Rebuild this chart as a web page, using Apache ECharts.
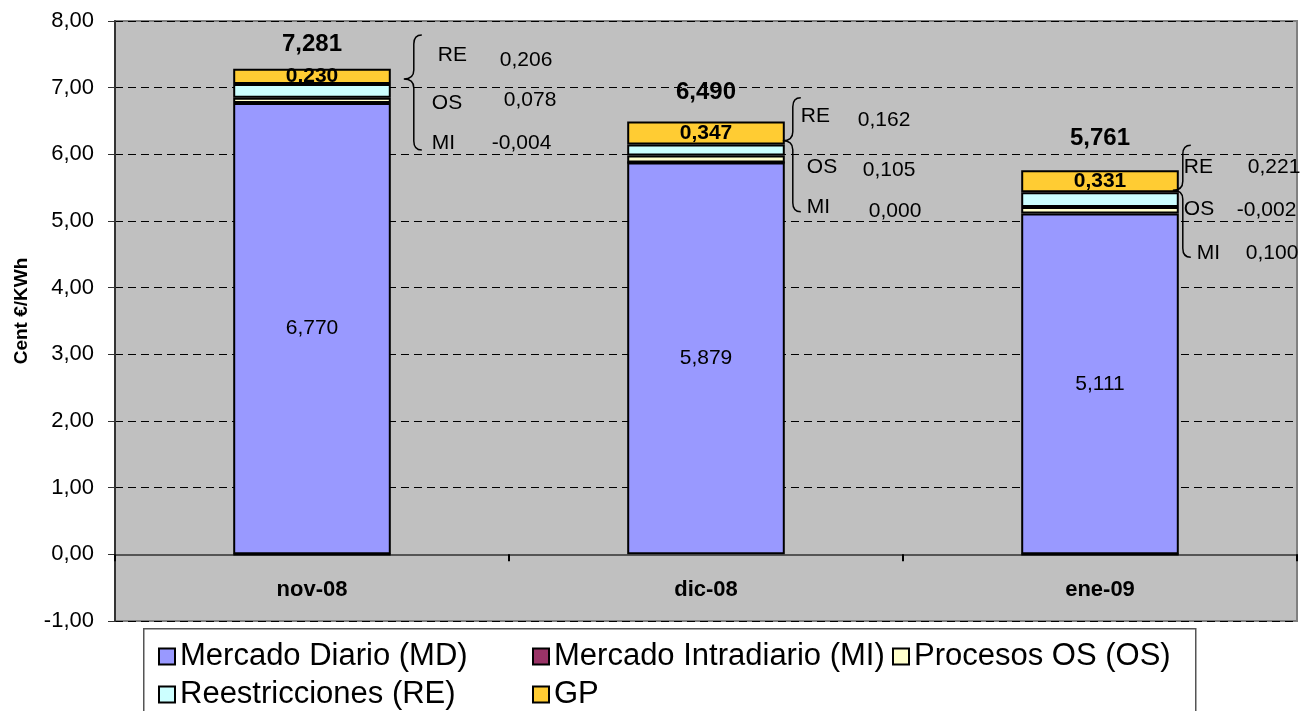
<!DOCTYPE html>
<html>
<head>
<meta charset="utf-8">
<script src="https://cdn.jsdelivr.net/npm/echarts@6/dist/echarts.min.js"></script>
<style>
html,body{margin:0;padding:0;background:#fff;}
#chart{width:1300px;height:711px;}
</style>
</head>
<body>
<div id="chart"></div>
<script>
// ---- data ----
const categories = ['nov-08', 'dic-08', 'ene-09'];
const mdValues = [6.770, 5.879, 5.111];
const miValues = [-0.004, 0.000, -0.002];
const osValues = [0.078, 0.105, 0.100];
const reValues = [0.206, 0.162, 0.221];
const gpValues = [0.230, 0.347, 0.331];
const totalValues = [7.281, 6.490, 5.761];
// annotation values as printed next to each bar
const noteRE = [0.206, 0.162, 0.221];
const noteOS = [0.078, 0.105, -0.002];
const noteMI = [-0.004, 0.000, 0.100];
const seriesNames = ['Mercado Diario (MD)', 'Mercado Intradiario (MI)', 'Procesos OS (OS)', 'Reestricciones (RE)', 'GP'];
const yMin = -1, yMax = 8, yStep = 1;

// ---- layout (pixel offsets relative to the bar's right edge / top) ----
const noteLayout = [
  {brace: [23, -34, 10, 81], re: [47, -14, 109, -9], os: [41, 34, 113, 31], mi: [41, 74, 101, 74], total: -25},
  {brace: [8, -24, 19, 90],  re: [16, -5, 73, -1],   os: [22, 46, 78, 49],  mi: [22, 86, 84, 90],  total: -29},
  {brace: [4, -25, 20, 87],  re: [5, -3, 69, -3],    os: [5, 39, 58, 40],   mi: [18, 83, 67, 83],  total: -32}
];

const FONT = "'Liberation Sans', Arial, sans-serif";
const fmt = (v, d) => v.toFixed(d).replace('.', ',');
const colors = ['#9999FF', '#993366', '#FFFFCC', '#CCFFFF', '#FFCC33'];

function bar(name, data, color, label) {
  return {
    name, type: 'bar', stack: 'total', data, barWidth: '40%',
    itemStyle: {color, borderColor: '#000', borderWidth: 2},
    label: label || {show: false},
    emphasis: {disabled: true},
    z: 3
  };
}

function bracePath(x, top, tip, bottom) {
  const w = 8, tw = 10, r = 9;
  return `M${x + w} ${top} Q${x} ${top} ${x} ${top + r} L${x} ${tip - r} Q${x} ${tip} ${x - tw} ${tip} ` +
         `Q${x} ${tip} ${x} ${tip + r} L${x} ${bottom - r} Q${x} ${bottom} ${x + w} ${bottom}`;
}

function txt(text, x, y, font, align) {
  return {type: 'text', x, y, style: {text, font, fill: '#000', textAlign: align || 'left', textVerticalAlign: 'middle', align: align || 'left', verticalAlign: 'middle'}};
}

function legendCol(names, left) {
  return {
    data: names, orient: 'vertical', left, top: 641, padding: 0,
    itemGap: 7, itemWidth: 16, itemHeight: 16, icon: 'rect', z: 10,
    textStyle: {fontFamily: FONT, fontSize: 31, color: '#000'}
  };
}

const chart = echarts.init(document.getElementById('chart'));
chart.setOption({
  backgroundColor: '#fff',
  animation: false,
  textStyle: {fontFamily: FONT},
  grid: {left: 115, right: 3, top: 21, bottom: 90, show: true, backgroundColor: '#C0C0C0', borderColor: '#808080', borderWidth: 2},
  graphic: [{
    type: 'rect', left: 143, top: 628, z: 1,
    shape: {width: 1052, height: 100},
    style: {fill: '#fff', stroke: '#555', lineWidth: 1.5}
  }],
  legend: [
    legendCol([seriesNames[0], seriesNames[3]], 158),
    legendCol([seriesNames[1], seriesNames[4]], 532),
    legendCol([seriesNames[2]], 892)
  ],
  xAxis: [{
    type: 'category', data: categories,
    axisLine: {onZero: true, lineStyle: {color: '#555', width: 2}},
    axisTick: {show: true, length: 7, lineStyle: {color: '#000', width: 2}},
    axisLabel: {show: false},
    splitLine: {show: false}
  }, {
    type: 'category', data: categories, position: 'bottom',
    axisLine: {show: false, onZero: false},
    axisTick: {show: false},
    axisLabel: {show: true, inside: true, interval: 0, fontSize: 22, fontWeight: 'bold', color: '#000', margin: 20, fontFamily: FONT},
    splitLine: {show: false}
  }],
  yAxis: {
    type: 'value', min: yMin, max: yMax, interval: yStep,
    name: 'Cent €/KWh', nameLocation: 'middle', nameRotate: 90, nameGap: 84,
    nameTextStyle: {fontSize: 19, fontWeight: 'bold', color: '#000', fontFamily: FONT, padding: [0, 0, 0, 20]},
    axisLine: {show: true, onZero: false, lineStyle: {color: '#333', width: 2}},
    axisTick: {show: true, length: 7, lineStyle: {color: '#333', width: 1}},
    axisLabel: {fontSize: 22, color: '#000', margin: 21, formatter: v => fmt(v, 2), fontFamily: FONT},
    splitLine: {show: true, lineStyle: {color: '#000', width: 1, type: [8, 5]}}
  },
  series: [
    bar(seriesNames[0], mdValues, colors[0], {show: true, position: 'inside', fontSize: 21, color: '#000', fontFamily: FONT, formatter: p => fmt(p.value, 3)}),
    bar(seriesNames[1], miValues, colors[1]),
    bar(seriesNames[2], osValues, colors[2]),
    bar(seriesNames[3], reValues, colors[3]),
    bar(seriesNames[4], gpValues, colors[4], {show: true, position: 'inside', fontSize: 21, fontWeight: 'bold', color: '#000', fontFamily: FONT, formatter: p => fmt(p.value, 3)}),
    {
      name: 'notes', type: 'custom', clip: false, z: 5,
      data: totalValues.map((v, i) => [i, v]),
      encode: {x: 0, y: 1},
      renderItem: (params, api) => {
        const i = params.dataIndex;
        const c = api.coord([i, api.value(1)]);
        const band = api.size([1, 0])[0];
        const right = c[0] + band * 0.2;
        const top = c[1];
        const L = noteLayout[i];
        const f = '21px ' + FONT;
        const b = L.brace;
        return {
          type: 'group',
          children: [
            {type: 'path', shape: {pathData: bracePath(right + b[0], top + b[1], top + b[2], top + b[3])}, style: {stroke: '#000', fill: null, lineWidth: 1.5}},
            txt('RE', right + L.re[0], top + L.re[1], f),
            txt(fmt(noteRE[i], 3), right + L.re[2], top + L.re[3], f),
            txt('OS', right + L.os[0], top + L.os[1], f),
            txt(fmt(noteOS[i], 3), right + L.os[2], top + L.os[3], f),
            txt('MI', right + L.mi[0], top + L.mi[1], f),
            txt(fmt(noteMI[i], 3), right + L.mi[2], top + L.mi[3], f),
            txt(fmt(totalValues[i], 3), c[0], top + L.total, 'bold 24px ' + FONT, 'center')
          ]
        };
      }
    }
  ]
});
</script>
</body>
</html>
